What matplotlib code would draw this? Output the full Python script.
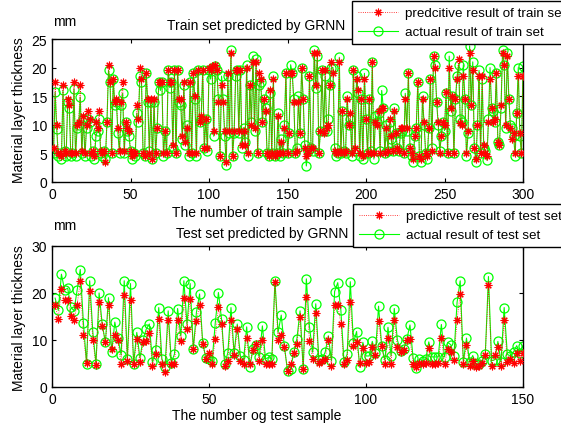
import numpy as np
import matplotlib
matplotlib.use("Agg")
import matplotlib.pyplot as plt

plt.rcParams['font.family'] = ['Liberation Sans', 'DejaVu Sans']
plt.rcParams['font.size'] = 9.5

# ---------------- data: train set (300 samples) ----------------
train_actual = [
    5, 15.7, 9.3, 4.5, 5, 4, 16, 5.5, 4.5, 14, 13, 4.5, 5, 16.3, 4.5, 9.5, 10, 14.8, 5, 11, 4.5, 9.5, 11, 10.5, 4.5,
    5.5, 4, 8, 9, 11, 5, 4.5, 5.5, 4, 10.5, 19.5, 17.5, 5, 18, 13.5, 14, 8.5, 5, 13.5, 15.5, 5, 10.5, 9, 8, 5.5,
    4, 5, 4.5, 12, 10.5, 18.5, 17.5, 5, 4.5, 19, 14, 5.5, 14, 4, 14, 5, 9.5, 17.5, 16, 17.5, 4.5, 9, 5, 19.5, 16.5,
    17.5, 6, 19.5, 5, 19.5, 14, 13.5, 7.5, 17, 6.5, 10, 4.5, 17.5, 5, 19, 14.5, 4.5, 19.5, 10.5, 11, 19.5, 6, 11, 5.5, 19.5,
    18, 20, 8, 20.2, 19.5, 14.5, 4.5, 18.5, 14.5, 8, 3, 18.5, 8.5, 23, 4.5, 8.5, 18.5, 19.5, 8.5, 19.5, 6, 9.5, 7, 20.5, 4.5,
    17, 10.5, 22, 9, 21.5, 5, 17, 17.5, 10.5, 14.5, 13, 5, 4.5, 15.5, 5, 18.5, 4.5, 5, 12, 4.5, 7.5, 5, 10, 19, 5,
    8.5, 20.5, 19, 14.5, 5, 6, 15, 8.5, 20, 14.5, 6.5, 2.8, 5.5, 18.5, 6, 5.5, 23, 16.5, 22, 5, 9, 19.5, 9, 18.5, 9,
    11, 17, 20, 20, 6, 4.5, 5, 21.8, 5, 12.5, 5.5, 5, 15, 10, 11, 4.5, 19.5, 5.5, 18.5, 15.5, 4.5, 14.5, 4, 19, 11,
    5, 14.5, 5.5, 21, 4, 11.5, 10.5, 12, 5.5, 16, 13, 5, 10, 5.5, 10.5, 7.5, 5.5, 13, 8.5, 6, 5.5, 8.5, 9, 5, 15.5,
    9, 19, 6, 4.5, 3.5, 8, 9.5, 17.5, 4.5, 3.5, 15, 10, 5, 4, 9.5, 18, 6, 22, 20.5, 14, 10, 5.5, 8, 10.5, 9,
    15.5, 5, 22, 12.5, 15, 5, 14.5, 18.5, 20.5, 11, 10.5, 20.5, 14.5, 4.5, 8.5, 23.8, 13.5, 21, 6, 3.5, 10, 19.5, 5, 18, 6,
    5.5, 3.8, 11, 20, 13, 12.5, 10.5, 19, 7, 6.5, 13, 23, 20.5, 9.5, 22.5, 14.5, 10, 9.5, 8, 4.5, 12, 20, 8, 5, 20.2,
]
train_pred = [
    6, 17.5, 10, 5, 5, 4.5, 17, 5.5, 5, 14.5, 13.5, 5, 5, 17.5, 5, 10, 10.5, 17, 5.5, 11.5, 5, 10, 12.5, 11, 5,
    5.5, 4.5, 10.5, 9.5, 12.5, 5.5, 5, 5.5, 3.5, 10.5, 20.5, 17.5, 5, 18, 14, 14.5, 9.5, 5.5, 14, 17.5, 5.5, 10.5, 9.5, 9, 5.5,
    4.5, 5, 5, 13.5, 11, 20, 18, 5, 4.5, 19, 14.5, 5, 14.5, 4, 14.5, 5, 9.5, 17.5, 17.5, 17.5, 5, 9, 5, 19.5, 17.5,
    17.5, 6.5, 19.5, 5, 19.5, 14.5, 14.5, 8, 17.5, 7, 9.5, 5, 17.5, 5, 19, 15, 5, 19.5, 10.5, 11.5, 19.5, 6, 11, 6, 20,
    19.5, 20.2, 9, 20.5, 19.5, 14, 4.5, 17, 14, 9, 3.5, 19, 9, 22.5, 4.5, 9, 19.5, 19.5, 9, 19.5, 6.5, 9, 6.5, 20, 5,
    17, 10, 21, 9.5, 21, 5, 19, 18, 10.5, 14.5, 12.5, 5, 4.5, 16, 5, 18, 4.5, 5, 11.5, 5, 7, 5, 9.5, 19, 5,
    8.5, 19, 19, 14, 5, 5.5, 14, 8.5, 20, 14.5, 6, 4.5, 5, 18.5, 6, 6, 22.5, 17, 22.5, 5, 9, 19.5, 8.5, 19.5, 9.5,
    10, 17, 21, 19, 5.5, 5, 5, 21, 5.5, 12.5, 5, 5.5, 14.5, 10, 12, 5, 19.5, 6, 18, 16, 5, 14.5, 4.5, 18, 11,
    5, 14.5, 5, 21, 5, 10.5, 10, 12.5, 5, 13, 13, 5, 9.5, 5.5, 11, 8, 5.5, 12.5, 8.5, 6, 5.5, 9.5, 9.5, 5, 14.5,
    9.5, 19, 6, 5, 4, 8, 9.5, 17.5, 4.5, 4, 14.5, 10.5, 5, 4.5, 9.5, 18, 5.5, 22, 20, 14, 10.5, 5, 8, 10.5, 10,
    15.8, 5, 20, 13, 15, 5, 14.5, 18, 21.5, 10.3, 10, 18.5, 14.5, 5, 9, 22.5, 13.5, 19.5, 6, 4, 10, 18.5, 5, 18.5, 6.5,
    5, 4.5, 10.5, 18, 13, 10.5, 11, 19, 7, 6.5, 13.5, 22.5, 20.5, 10, 22, 14.5, 9.5, 7.5, 8.5, 5, 12, 18.5, 8.5, 5, 18.5,
]

# ---------------- data: test set (150 samples) ----------------
test_actual = [
    18.9, 16.3, 24, 20.7, 21, 17, 16.2, 20.6, 25, 13.7, 5, 22.6, 11.7, 5, 20, 13.3, 9.5, 19, 7.4, 13.8,
    10.4, 6.8, 22.6, 6, 22, 5, 11.6, 6.2, 10, 12.3, 13.4, 5.3, 7.8, 16.9, 6, 4.3, 16.2, 5.2, 7, 16.7,
    10.9, 22.6, 13.3, 22, 8.1, 15.9, 19.8, 9.4, 6.1, 6, 5.5, 13.7, 20.1, 14.4, 4.9, 7.3, 16.9, 7.2, 13.4, 6.6,
    5.7, 12.8, 4.2, 8.1, 9, 6.4, 13, 6, 6.3, 5.9, 22.6, 11.6, 15.3, 8.7, 3.5, 3.8, 7.4, 10.3, 16.2, 3.8,
    23, 12.8, 7.4, 17.7, 5.7, 5.9, 7.4, 10.9, 5.6, 20.3, 22.2, 16.3, 5.3, 7, 22.4, 9.4, 11.8, 4.2, 9.5, 6.6,
    6.6, 9.7, 7.2, 17.2, 8.7, 5.7, 12.7, 6.6, 16.7, 10, 7.6, 8, 10.2, 13.2, 6.2, 4, 5.9, 5.6, 5.9, 9.6,
    6.4, 6.4, 6.4, 13.3, 6.4, 9.5, 9, 6.6, 18, 22.6, 5.3, 10.4, 5.3, 6.7, 4.9, 4.9, 5.5, 7.1, 23.5, 5.6,
    5.8, 9.7, 5.3, 16.9, 7, 6.5, 7.5, 8.8, 7.2, 8.8,
]
test_pred = [
    17.5, 14.5, 20.8, 18.5, 18.5, 15.2, 14.3, 17.5, 22.5, 11, 5.1, 20.5, 10, 4.7, 18, 13, 9.5, 17.5, 8, 11,
    10, 4.8, 19.5, 5.5, 18.5, 4.8, 10.3, 5.3, 9.5, 9.8, 11.5, 4.5, 7, 14.4, 5, 3.2, 14.3, 4.8, 4.8, 14.3,
    9.7, 19, 12.3, 18.8, 8, 14, 17.5, 9.2, 6, 7.3, 5, 10.3, 17, 13.3, 4.5, 5.5, 14.3, 6.8, 12.3, 5.5,
    4.8, 10.5, 5, 7.8, 9.2, 5.5, 10, 5, 5, 5, 22.3, 10, 11, 8.5, 3.4, 4.8, 7.2, 9.2, 15, 3.8,
    19.2, 9.8, 6, 15.8, 5.2, 5.5, 6, 10, 4.5, 17.5, 17.5, 13.5, 4.8, 5.8, 18, 8.8, 9.5, 5.1, 8.3, 5.1,
    5.3, 8.5, 6.8, 14, 8.7, 4.8, 10.5, 5, 14.3, 8.6, 7.5, 7.8, 10, 10.3, 5, 4.3, 5.2, 5, 5.1, 8.3,
    5, 5, 5.1, 10.5, 4.8, 8, 7.5, 5.8, 14.3, 19.8, 4.8, 9, 4.5, 5.5, 4.3, 4.5, 5.2, 6.8, 21.8, 4.5,
    6.8, 8.5, 4.5, 14.3, 5.3, 6, 5.2, 7.3, 5.5, 7.3,
]

train_x = np.arange(1, len(train_actual) + 1)
test_x = np.arange(1, len(test_actual) + 1)

W, H = 561, 431
fig = plt.figure(figsize=(W / 100, H / 100), dpi=100)

def px_axes(l, t, r, b):
    return fig.add_axes([l / W, 1 - b / H, (r - l) / W, (b - t) / H])

ax1 = px_axes(52, 40, 523, 183)
ax2 = px_axes(52, 247, 523, 388)

green = '#00ff00'
asterisk = (8, 2, 0)

def draw(ax, x, pred, act, labels, xlim, ylim, yticks, xticks):
    ax.plot(x, pred, linestyle=':', color='red', marker=asterisk, markersize=5.5,
            markeredgewidth=0.8, linewidth=0.6, label=labels[0], zorder=3)
    ax.plot(x, act, linestyle='-', color=green, marker='o', markersize=6.5,
            markerfacecolor='none', markeredgewidth=0.9, linewidth=0.8,
            label=labels[1], zorder=2)
    ax.set_xlim(*xlim)
    ax.set_ylim(*ylim)
    ax.set_yticks(yticks)
    ax.set_xticks(xticks)
    ax.tick_params(direction='in', top=True, right=True, length=3, labelsize=10)
    for s in ax.spines.values():
        s.set_linewidth(1.0)

draw(ax1, train_x, train_pred, train_actual,
     ['predcitive result of train set', 'actual result of train set'],
     (0, 300), (0, 25), [0, 5, 10, 15, 20, 25], [0, 50, 100, 150, 200, 250, 300])
draw(ax2, test_x, test_pred, test_actual,
     ['predictive result of test set', 'actual result of test set'],
     (0, 150), (0, 30), [0, 10, 20, 30], [0, 50, 100, 150])

for ax, (lx, ly) in ((ax1, (352, 2)), (ax2, (353, 205))):
    fig_xy = (lx / W, 1 - ly / H)
    leg = ax.legend(loc='upper left', bbox_to_anchor=fig_xy,
                    bbox_transform=fig.transFigure, frameon=True, fancybox=False,
                    framealpha=1, edgecolor='black', borderaxespad=0,
                    handlelength=3.0, fontsize=9.6, borderpad=0.45,
                    labelspacing=0.5, handletextpad=0.5)
    leg.get_frame().set_linewidth(1.0)
    leg.set_zorder(10)

# texts
fig.text(53 / W, 1 - 22 / H, 'mm', fontsize=10, va='center', ha='left')
fig.text(53 / W, 1 - 226 / H, 'mm', fontsize=10, va='center', ha='left')
fig.text(256 / W, 1 - 26 / H, 'Train set predicted by GRNN', fontsize=10, va='center', ha='center')
fig.text(262 / W, 1 - 234 / H, 'Test set predicted by GRNN', fontsize=10, va='center', ha='center')
fig.text(257 / W, 1 - 213 / H, 'The number of train sample', fontsize=10, va='center', ha='center')
fig.text(257 / W, 1 - 416 / H, 'The number og test sample', fontsize=10, va='center', ha='center')
fig.text(19 / W, 1 - 110 / H, 'Material layer thickness', fontsize=10, va='center', ha='center', rotation=90)
fig.text(19 / W, 1 - 318 / H, 'Material layer thickness', fontsize=10, va='center', ha='center', rotation=90)

fig.savefig('out.png', dpi=100)
